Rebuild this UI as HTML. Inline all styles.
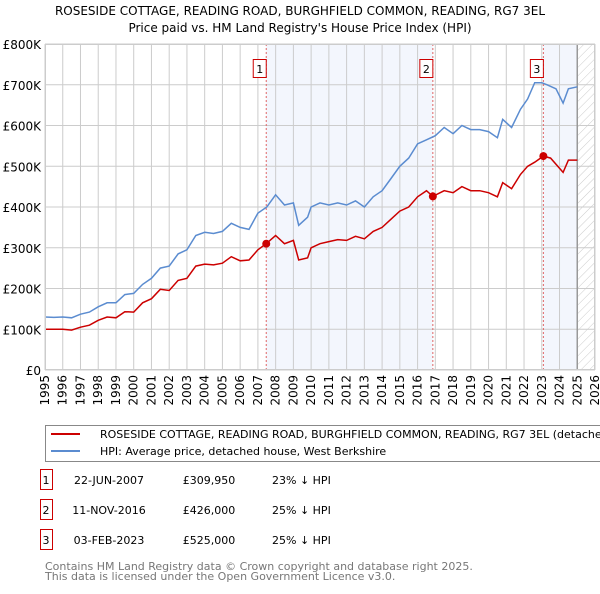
<!DOCTYPE html>
<html><head><meta charset="utf-8"><style>
body{margin:0;background:#fff;width:600px;height:590px;overflow:hidden;font-family:"DejaVu Sans","Liberation Sans",sans-serif;}
svg text{font-family:"DejaVu Sans","Liberation Sans",sans-serif;}
</style></head><body>
<svg id="c" width="600" height="590">
<defs><pattern id="hatch" width="6" height="6" patternUnits="userSpaceOnUse" patternTransform="rotate(45)"><line x1="0" y1="0" x2="0" y2="6" stroke="#ccc" stroke-width="1"/></pattern></defs>
<text x="300" y="15" text-anchor="middle" font-size="12">ROSESIDE COTTAGE, READING ROAD, BURGHFIELD COMMON, READING, RG7 3EL</text>
<text x="300" y="32" text-anchor="middle" font-size="12">Price paid vs. HM Land Registry's House Price Index (HPI)</text>
<g id="plot"></g>
<rect x="45.5" y="425.5" width="570" height="36" fill="none" stroke="#888"/>
<line x1="51" y1="434" x2="80" y2="434" stroke="#cc0000" stroke-width="2"/>
<text x="100" y="438" font-size="11">ROSESIDE COTTAGE, READING ROAD, BURGHFIELD COMMON, READING, RG7 3EL (detached house)</text>
<line x1="51" y1="451" x2="80" y2="451" stroke="#5b8cd0" stroke-width="2"/>
<text x="100" y="455" font-size="11">HPI: Average price, detached house, West Berkshire</text>
<g id="tbl"></g>
<text x="45" y="570" font-size="11" fill="#777">Contains HM Land Registry data © Crown copyright and database right 2025.</text>
<text x="45" y="580" font-size="11" fill="#777">This data is licensed under the Open Government Licence v3.0.</text>
</svg>
<script>
const hpiYears=[1995,1995.5,1996,1996.5,1997,1997.5,1998,1998.5,1999,1999.5,2000,2000.5,2001,2001.5,2002,2002.5,2003,2003.5,2004,2004.5,2005,2005.5,2006,2006.5,2007,2007.5,2008,2008.5,2009,2009.3,2009.8,2010,2010.5,2011,2011.5,2012,2012.5,2013,2013.5,2014,2014.5,2015,2015.5,2016,2016.5,2017,2017.5,2018,2018.5,2019,2019.5,2020,2020.5,2020.8,2021.3,2021.8,2022.2,2022.6,2023,2023.3,2023.8,2024.2,2024.5,2025];
const hpiValues=[130,129,130,128,137,142,155,165,165,185,188,210,225,250,255,285,295,330,338,335,340,360,350,345,385,400,430,405,410,355,375,400,410,405,410,405,415,400,425,440,470,500,520,555,565,575,595,580,600,590,590,585,570,615,595,640,665,705,705,700,690,655,690,695];
const propYears=[1995,1996,1996.5,1997,1997.5,1998,1998.5,1999,1999.5,2000,2000.5,2001,2001.5,2002,2002.5,2003,2003.5,2004,2004.5,2005,2005.5,2006,2006.5,2007,2007.47,2008,2008.5,2009,2009.3,2009.8,2010,2010.5,2011,2011.5,2012,2012.5,2013,2013.5,2014,2014.5,2015,2015.5,2016,2016.5,2016.86,2017.5,2018,2018.5,2019,2019.5,2020,2020.5,2020.8,2021.3,2021.8,2022.2,2022.6,2023.09,2023.5,2024.2,2024.5,2025];
const propValues=[100,100,98,105,110,122,130,128,143,142,165,175,198,195,220,225,255,260,258,262,278,268,270,295,310,330,310,318,270,275,300,310,315,320,318,328,322,340,350,370,390,400,425,440,426,440,435,450,440,440,435,425,460,445,480,500,510,525,520,485,515,515];
const saleYears=[2007.47,2016.86,2023.09];
const saleValues=[309.95,426,525];
const saleLabels=["1","2","3"];
const saleDates=["22-JUN-2007","11-NOV-2016","03-FEB-2023"];
const salePrices=["£309,950","£426,000","£525,000"];
const saleDiffs=["23% ↓ HPI","25% ↓ HPI","25% ↓ HPI"];
const yTicks=[0,100,200,300,400,500,600,700,800];
const yTickLabels=["£0","£100K","£200K","£300K","£400K","£500K","£600K","£700K","£800K"];

const NS="http://www.w3.org/2000/svg";
const L=45,R=595,T=44,B=370,X0=1995,X1=2026,YMAX=800;
const xs=v=>L+(v-X0)*(R-L)/(X1-X0);
const ys=v=>B-v*(B-T)/YMAX;
const g=document.getElementById('plot');
function mk(tag,attrs,parent){const e=document.createElementNS(NS,tag);for(const k in attrs)e.setAttribute(k,attrs[k]);(parent||g).appendChild(e);return e;}
let e;
e=mk('rect',{x:xs(saleYears[0]),y:T,width:xs(saleYears[1])-xs(saleYears[0]),height:B-T,fill:'#f3f6fd'});


e=mk('rect',{x:xs(saleYears[2]),y:T,width:xs(2025)-xs(saleYears[2]),height:B-T,fill:'#f3f6fd'});


e=mk('rect',{x:xs(2025),y:T,width:xs(2026)-xs(2025),height:B-T,fill:'url(#hatch)'});


for(let yr=X0;yr<=X1;yr++){
 e=mk('line',{x1:xs(yr),x2:xs(yr),y1:T,y2:B,stroke:'#ccc','stroke-width':1});
 
 
 e=mk('text',{x:0,y:0,'font-size':12,'text-anchor':'end',transform:`translate(${xs(yr)+4},${B+5}) rotate(-90)`});
 e.textContent=yr;
 
 
}
yTicks.forEach((v,i)=>{
 e=mk('line',{x1:L,x2:R,y1:ys(v),y2:ys(v),stroke:'#ccc','stroke-width':1});
 
 
 e=mk('text',{x:L-4,y:ys(v)+5,'font-size':12,'text-anchor':'end'});
 e.textContent=yTickLabels[i];
 
 
});
e=mk('line',{x1:xs(2025),x2:xs(2025),y1:T,y2:B,stroke:'#999','stroke-width':1.5});


saleYears.forEach((yr,i)=>{
 e=mk('line',{x1:xs(yr),x2:xs(yr),y1:T,y2:B,stroke:'#e06666','stroke-width':1,'stroke-dasharray':'2,2'});
 
 
});
const pts=(xa,va)=>xa.map((x,i)=>xs(x).toFixed(1)+','+ys(va[i]).toFixed(1)).join(' ');
e=mk('polyline',{points:pts(hpiYears,hpiValues),fill:'none',stroke:'#5b8cd0','stroke-width':1.5});


e=mk('polyline',{points:pts(propYears,propValues),fill:'none',stroke:'#cc0000','stroke-width':1.5});


saleYears.forEach((yr,i)=>{
 e=mk('circle',{cx:xs(yr),cy:ys(saleValues[i]),r:4,fill:'#cc0000'});
 
 
 e=mk('rect',{x:xs(yr)-13,y:59.5,width:13,height:18,fill:'#fff',stroke:'#cc0000'});
 
 
 e=mk('text',{x:xs(yr)-6.5,y:73,'font-size':11,'text-anchor':'middle'});
 e.textContent=saleLabels[i];
 
 
});
e=mk('rect',{x:L+0.5,y:T+0.5,width:R-L-1,height:B-T-1,fill:'none',stroke:'#ccc'});


const tb=document.getElementById('tbl');
saleYears.forEach((yr,i)=>{
 const cy=484+i*30;
 e=mk('rect',{x:40.5,y:cy-14.5,width:12,height:20,fill:'#fff',stroke:'#cc0000'},tb);
 
 
 const cells=[[46,saleLabels[i],'middle'],[109,saleDates[i],'middle'],[209,salePrices[i],'middle'],[272,saleDiffs[i],'start']];
 cells.forEach(([x,t,a],j)=>{
  e=mk('text',{x:x,y:cy,'font-size':11,'text-anchor':a},tb);
  e.textContent=t;
  
  
 });
});
</script>
</body></html>
